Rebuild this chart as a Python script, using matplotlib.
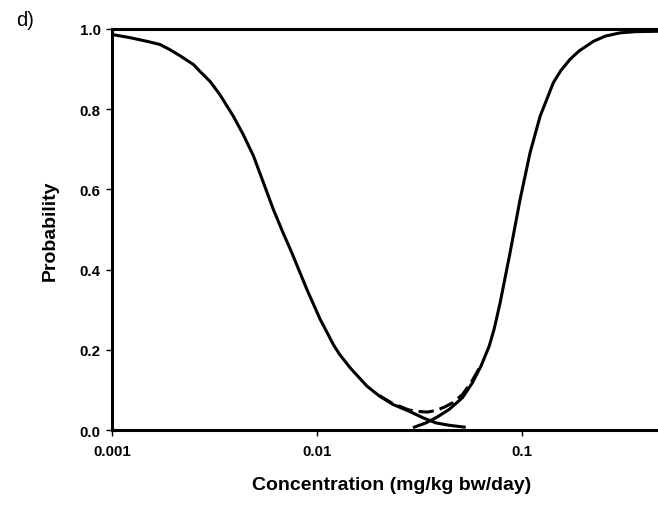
import matplotlib
matplotlib.use("Agg")
import matplotlib.pyplot as plt
from matplotlib.ticker import FixedLocator, FixedFormatter, NullLocator

plt.rcParams['font.family'] = ['Liberation Sans', 'DejaVu Sans']

# decreasing curve
dec_x = [0.001, 0.001227, 0.00148, 0.001717, 0.00192, 0.002148, 0.0025, 0.002686,
         0.00301, 0.00336, 0.00391, 0.004361, 0.0049, 0.00612, 0.006823,
         0.00753, 0.00891, 0.01035, 0.01109, 0.0120, 0.01286,
         0.0145, 0.01746, 0.0201, 0.0234, 0.0281, 0.0327, 0.0379, 0.0441, 0.0521]
dec_y = [0.986, 0.978, 0.969, 0.961, 0.948, 0.933, 0.911, 0.894,
         0.869, 0.836, 0.782, 0.737, 0.683, 0.550, 0.492,
         0.442, 0.351, 0.276, 0.247, 0.213, 0.189,
         0.155, 0.110, 0.085, 0.064, 0.047, 0.031, 0.018, 0.012, 0.0075]

# increasing curve
inc_x = [0.0298, 0.0339, 0.0386, 0.0441, 0.0511, 0.0571, 0.0628, 0.0689,
         0.0728, 0.0779, 0.0871, 0.0975, 0.109, 0.122, 0.1416, 0.154,
         0.1707, 0.189, 0.222, 0.254, 0.299, 0.356, 0.458]
inc_y = [0.0075, 0.018, 0.033, 0.052, 0.081, 0.118, 0.159, 0.209,
         0.251, 0.317, 0.442, 0.575, 0.691, 0.782, 0.866, 0.896,
         0.924, 0.945, 0.969, 0.982, 0.990, 0.993, 0.994]

# dashed curve, visible only around the minimum
sum_x = [0.0201, 0.0234, 0.0281, 0.0320, 0.0345, 0.0380, 0.0420, 0.0460,
         0.0511, 0.0560, 0.0628]
sum_y = [0.086, 0.066, 0.050, 0.046, 0.045, 0.049, 0.058, 0.069,
         0.089, 0.117, 0.161]

xticks = [0.001, 0.01, 0.1]
xlabels = ['0.001', '0.01', '0.1']
yticks = [0.0, 0.2, 0.4, 0.6, 0.8, 1.0]

fig = plt.figure(figsize=(6.58, 5.06), dpi=100)
ax = fig.add_axes([0.170, 0.148, 0.830, 0.793])

ax.plot(sum_x, sum_y, color='black', lw=2.2, ls=(0, (5, 2)), zorder=2)
ax.plot(dec_x, dec_y, color='black', lw=2.2, zorder=3)
ax.plot(inc_x, inc_y, color='black', lw=2.2, zorder=3)

ax.set_xscale('log')
ax.set_xlim(0.001, 0.458)
ax.set_ylim(0, 1.0)

ax.xaxis.set_major_locator(FixedLocator(xticks))
ax.xaxis.set_major_formatter(FixedFormatter(xlabels))
ax.xaxis.set_minor_locator(NullLocator())
ax.set_yticks(yticks)
ax.set_yticklabels(['%.1f' % v for v in yticks])

for side in ['left', 'bottom', 'top']:
    ax.spines[side].set_linewidth(2.2)
ax.spines['right'].set_visible(False)

ax.tick_params(direction='out', length=4, width=1, labelsize=10.8)
ax.tick_params(axis='x', pad=6)
ax.tick_params(axis='y', pad=4)
for lab in ax.get_xticklabels() + ax.get_yticklabels():
    lab.set_fontweight('bold')

ax.set_xlabel('Concentration (mg/kg bw/day)', fontsize=14, fontweight='bold',
              labelpad=13, x=0.512, ha='center')
ax.set_ylabel('Probability', fontsize=14, fontweight='bold', labelpad=15)

fig.text(0.024, 0.978, 'd)', fontsize=14.5, va='top', ha='left')

fig.savefig('out.png', dpi=100)
